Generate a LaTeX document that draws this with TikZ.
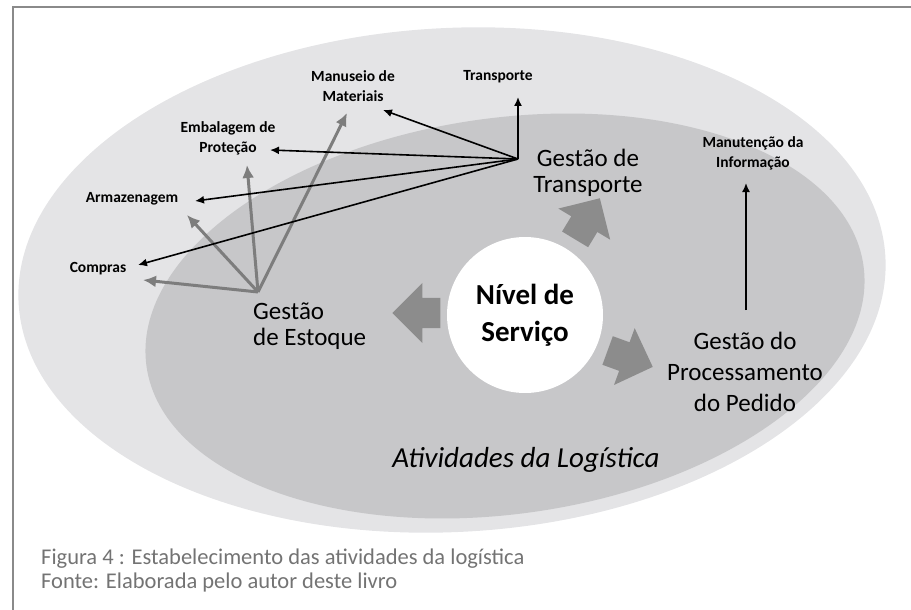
\documentclass[tikz,border=0pt]{standalone}
\usepackage{fontspec}
\setmainfont{Carlito}
\usepackage{tikz}
\usetikzlibrary{shapes,arrows.meta,positioning}
\definecolor{outergray}{RGB}{228,228,230}
\definecolor{innergray}{RGB}{199,199,201}
\definecolor{flowgray}{RGB}{140,140,140}
\definecolor{stockgray}{RGB}{125,125,125}
\definecolor{framegray}{RGB}{138,138,138}
\definecolor{captiongray}{RGB}{115,115,115}
\tikzstyle{bigtext} = [text=black, align=center, font=\fontsize{25}{26}\selectfont, inner sep=0pt]
\tikzstyle{smalltext} = [text=black, align=center, font=\bfseries\fontsize{15.5}{20}\selectfont, inner sep=0pt]
\tikzstyle{core} = [circle, fill=white, minimum size=156pt, align=center, font=\bfseries\fontsize{29}{37}\selectfont, inner sep=0pt]
\tikzstyle{flow} = [single arrow, fill=flowgray, draw=none, inner sep=0pt, inner ysep=15pt, single arrow head extend=15pt, minimum height=48pt]
\tikzstyle{captext} = [text=captiongray, anchor=west, font=\fontsize{22.5}{24}\selectfont, inner sep=0pt]
\tikzstyle{tedge}  = [draw, line width=1.6pt, -{Latex[length=9pt,width=8pt]}]
\tikzstyle{sedge}  = [draw=stockgray, line width=3pt, -{Latex[length=13pt,width=12pt]}]

\begin{document}
\begin{tikzpicture}[x=1pt, y=-1pt]
\useasboundingbox (0,0) rectangle (911,610);

% frame and ellipses =============================
\draw[framegray, line width=2.5pt] (13,610) -- (13,7) -- (911,7);
\fill[outergray, rotate around={3:(452,280)}] (452,280) ellipse [x radius=434, y radius=252];
\fill[innergray, rotate around={8:(505,316)}] (505,316) ellipse [x radius=362, y radius=198];

% junctions =============================
\coordinate (hT) at (518,159);
\coordinate (hE) at (258,292);
\coordinate (hP) at (746,310);
\coordinate (pTransp) at (518,97);
\coordinate (pManus) at (383,110);
\coordinate (pProt) at (270,150);
\coordinate (pArmaz) at (195,201);
\coordinate (pCompr) at (138,265);
\coordinate (qManus) at (347,113);
\coordinate (qProt) at (247,165);
\coordinate (qArmaz) at (187,215);
\coordinate (qCompr) at (143,280);
\coordinate (pManut) at (746,183);

% edges =============================
\path[sedge] (hE) -- (qCompr);
\path[sedge] (hE) -- (qArmaz);
\path[sedge] (hE) -- (qProt);
\path[sedge] (hE) -- (qManus);
\path[tedge] (hT) -- (pTransp);
\path[tedge] (hT) -- (pManus);
\path[tedge] (hT) -- (pProt);
\path[tedge] (hT) -- (pArmaz);
\path[tedge] (hT) -- (pCompr);
\path[tedge] (hP) -- (pManut);

% activities =============================
\node[core] (nivel) at (525,315) {Nível de\\Serviço};
\node[flow, rotate=180, anchor=tip] (fEstoque) at (392,313) {};
\node[flow, rotate=59, anchor=tip] (fTransp) at (600,198) {};
\node[flow, rotate=-20, anchor=tip] (fPedido) at (653,367) {};
\node[bigtext] (gtransp) at (588,173) {Gestão de\\Transporte};
\node[bigtext, align=left, anchor=west] (gestoq) at (253,326) {Gestão\\de Estoque};
\node[bigtext, font=\fontsize{25}{31}\selectfont] (gpedido) at (745,372) {Gestão do\\Processamento\\do Pedido};
\node[bigtext, font=\itshape\fontsize{29}{30}\selectfont] (ativ) at (526,460) {Atividades da Logística};

% labels =============================
\node[smalltext] (manus) at (353,86) {Manuseio de\\Materiais};
\node[smalltext] (transp) at (498,77) {Transporte};
\node[smalltext] (embal) at (228,138) {Embalagem de\\Proteção};
\node[smalltext] (armaz) at (132,199) {Armazenagem};
\node[smalltext] (compr) at (98,269) {Compras};
\node[smalltext] (manut) at (753,153) {Manutenção da\\Informação};

% caption =============================
\node[captext] (fig) at (41,559) {Figura 4 : Estabelecimento das atividades da logística};
\node[captext] (fonte) at (41,582) {Fonte: Elaborada pelo autor deste livro};

\end{tikzpicture}
\end{document}
